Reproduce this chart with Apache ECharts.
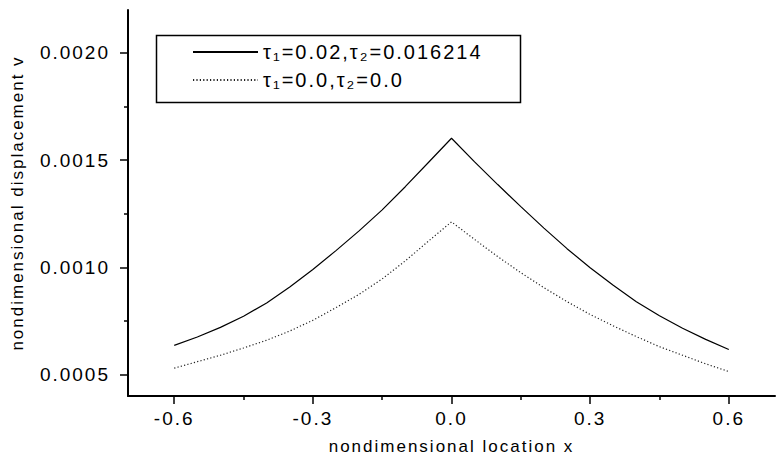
<!DOCTYPE html>
<html>
<head>
<meta charset="utf-8">
<title>nondimensional displacement v</title>
<style>
  html, body { margin: 0; padding: 0; background: #ffffff; }
  #chart { width: 777px; height: 463px; }
  /* the lettering of this plot is widely tracked */
  #chart svg text { letter-spacing: 2px; }
</style>
<script src="https://cdn.jsdelivr.net/npm/echarts@6/dist/echarts.min.js"></script>
</head>
<body>
<div id="chart"></div>
<script>
// nondimensional location x
const xs = [-0.6, -0.55, -0.5, -0.45, -0.4, -0.35, -0.3, -0.25, -0.2, -0.15, -0.1, -0.05, 0,
            0.05, 0.1, 0.15, 0.2, 0.25, 0.3, 0.35, 0.4, 0.45, 0.5, 0.55, 0.6];

// displacement v for tau1 = 0.02, tau2 = 0.016214
const vTau = [0.000636, 0.000675, 0.000720, 0.000772, 0.000834, 0.000908, 0.000990, 0.001078,
              0.001170, 0.001268, 0.001376, 0.001489, 0.001602,
              0.001492, 0.001386, 0.001283, 0.001183, 0.001087, 0.000998, 0.000916, 0.000840,
              0.000774, 0.000716, 0.000664, 0.000617];

// displacement v for tau1 = 0.0, tau2 = 0.0
const vZero = [0.000530, 0.000560, 0.000590, 0.000624, 0.000660, 0.000703, 0.000753, 0.000812,
               0.000874, 0.000946, 0.001030, 0.001122, 0.001212,
               0.001130, 0.001050, 0.000975, 0.000905, 0.000840, 0.000780, 0.000727, 0.000677,
               0.000630, 0.000590, 0.000550, 0.000514];

const seriesNames = ['τ₁=0.02,τ₂=0.016214', 'τ₁=0.0,τ₂=0.0'];

// tick values
const xMajorTicks = [-0.6, -0.3, 0, 0.3, 0.6];
const xMinorTicks = [-0.45, -0.15, 0.15, 0.45];
const yMajorTicks = [0.0005, 0.0010, 0.0015, 0.0020];
const yMinorTicks = [0.00075, 0.00125, 0.00175];

const FONT = '"Liberation Sans", Arial, Helvetica, sans-serif';
const INK = '#000000';

const pairs = (vals) => xs.map((x, i) => [x, vals[i]]);

const chart = echarts.init(document.getElementById('chart'), null, { renderer: 'svg' });

const majorX = {
  type: 'value', min: -0.7, max: 0.7, position: 'bottom', offset: 0,
  axisLine: { show: true, onZero: false, lineStyle: { color: INK, width: 2 } },
  axisTick: { show: true, inside: false, length: 8, customValues: xMajorTicks,
              lineStyle: { color: INK, width: 1.5 } },
  axisLabel: { customValues: xMajorTicks, formatter: (v) => v.toFixed(1),
               color: INK, fontSize: 19, fontFamily: FONT, margin: 13 },
  splitLine: { show: false },
  name: 'nondimensional location x', nameLocation: 'middle', nameGap: 42,
  nameTextStyle: { color: INK, fontSize: 17, fontFamily: FONT }
};
const minorX = {
  type: 'value', min: -0.7, max: 0.7, position: 'bottom', offset: 0,
  axisLine: { show: false, onZero: false },
  axisTick: { show: true, inside: false, length: 4, customValues: xMinorTicks,
              lineStyle: { color: INK, width: 1.5 } },
  axisLabel: { show: false },
  splitLine: { show: false }
};
const majorY = {
  type: 'value', min: 0.0004, max: 0.0022, position: 'left', offset: 0,
  axisLine: { show: true, onZero: false, lineStyle: { color: INK, width: 2 } },
  axisTick: { show: true, inside: false, length: 8, customValues: yMajorTicks,
              lineStyle: { color: INK, width: 1.5 } },
  axisLabel: { customValues: yMajorTicks, formatter: (v) => v.toFixed(4),
               color: INK, fontSize: 19, fontFamily: FONT, margin: 18 },
  splitLine: { show: false },
  name: 'nondimensional displacement v', nameLocation: 'middle', nameGap: 102,
  nameRotate: 90,
  nameTextStyle: { color: INK, fontSize: 17, fontFamily: FONT }
};
const minorY = {
  type: 'value', min: 0.0004, max: 0.0022, position: 'left', offset: 0,
  axisLine: { show: false, onZero: false },
  axisTick: { show: true, inside: false, length: 4, customValues: yMinorTicks,
              lineStyle: { color: INK, width: 1.5 } },
  axisLabel: { show: false },
  splitLine: { show: false }
};

chart.setOption({
  backgroundColor: '#ffffff',
  animation: false,
  grid: { left: 128, right: 2, top: 10, bottom: 67, containLabel: false },
  xAxis: [majorX, minorX],
  yAxis: [majorY, minorY],
  legend: {
    orient: 'vertical', left: 192, top: 42, padding: 0,
    itemWidth: 65, itemHeight: 16, itemGap: 8,
    itemStyle: { opacity: 0 },
    textStyle: { color: INK, fontSize: 20, fontFamily: FONT },
    data: seriesNames
  },
  graphic: [{
    type: 'rect', left: 154, top: 33, z: 0,
    shape: { width: 364, height: 67 },
    style: { fill: 'none', stroke: INK, lineWidth: 1.5 }
  }],
  series: [
    {
      name: seriesNames[0], type: 'line', data: pairs(vTau),
      xAxisIndex: 0, yAxisIndex: 0, symbol: 'none',
      itemStyle: { color: INK },
      lineStyle: { color: INK, width: 1.2, type: 'solid' }
    },
    {
      name: seriesNames[1], type: 'line', data: pairs(vZero),
      xAxisIndex: 0, yAxisIndex: 0, symbol: 'none',
      itemStyle: { color: INK },
      lineStyle: { color: '#222222', width: 1.2, type: [1.2, 2.2] }
    }
  ]
});
</script>
</body>
</html>
